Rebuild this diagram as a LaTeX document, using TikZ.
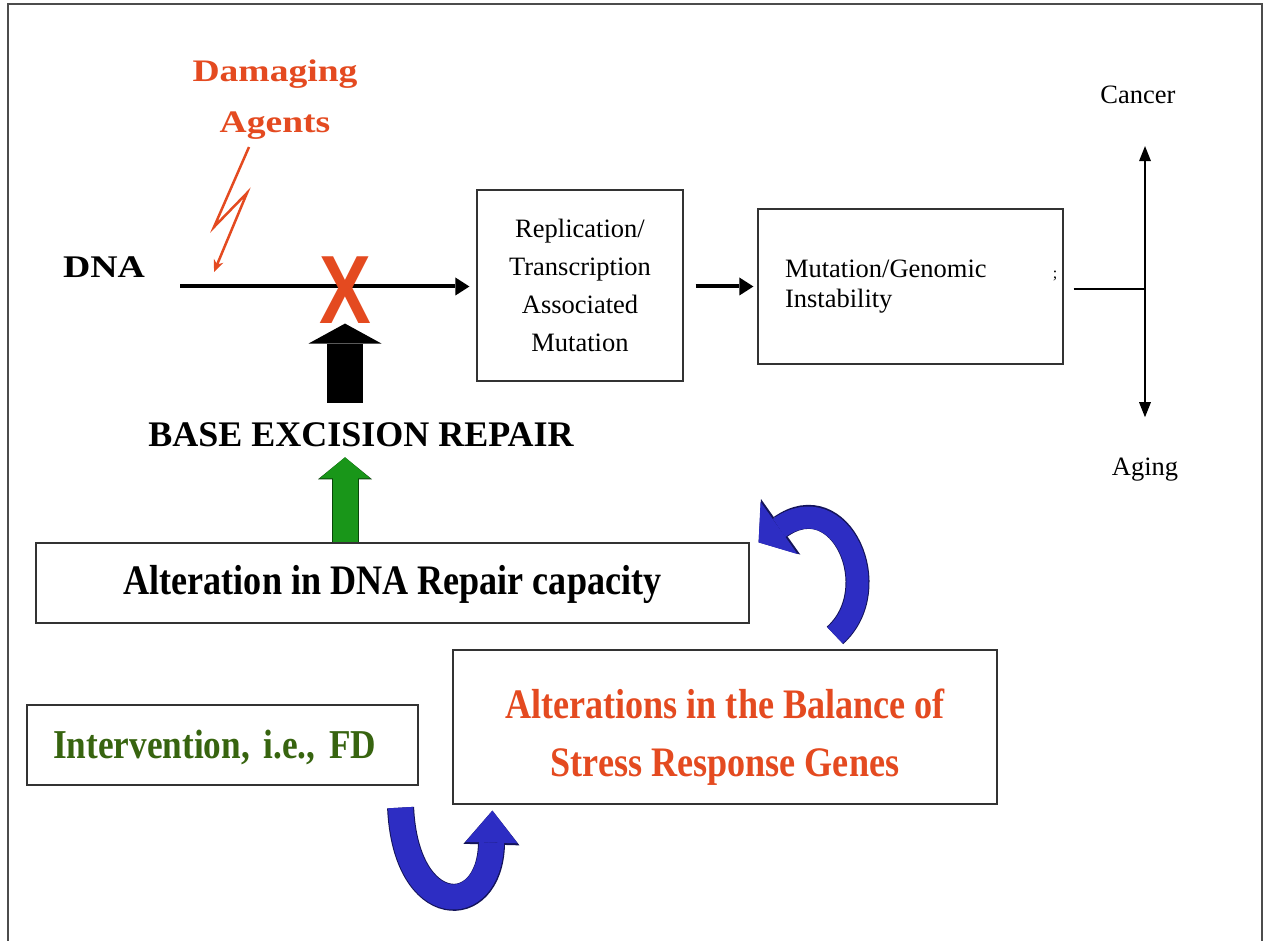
\documentclass[tikz,border=0pt]{standalone}
\usepackage{graphicx}
\usepackage{fontspec}
\setmainfont{Liberation Serif}
\setsansfont{Liberation Sans}
\newfontfamily\narrowfont[FakeStretch=0.86]{Liberation Serif}
\newfontfamily\widefont[FakeStretch=1.2]{Liberation Serif}
\usetikzlibrary{arrows.meta}

\definecolor{hotred}{RGB}{228,74,32}
\definecolor{leafgreen}{RGB}{55,100,15}
\definecolor{blockgreen}{RGB}{25,150,25}
\definecolor{darkgreen}{RGB}{10,70,10}
\definecolor{curlblue}{RGB}{45,45,195}
\definecolor{curlnavy}{RGB}{20,20,90}

\begin{document}
\begin{tikzpicture}[
  x=1pt, y=-1pt,
  box/.style    ={draw=black!80,line width=1.2pt,rectangle,align=center,inner sep=0pt},
  lbl/.style    ={inner sep=0pt,align=center},
  big/.style    ={lbl,font=\bfseries\fontsize{36}{40}\selectfont},
  cond/.style   ={font=\narrowfont\bfseries\fontsize{42}{58}\selectfont},
  small/.style  ={font=\fontsize{26.5}{38}\selectfont},
  flow/.style   ={draw,line width=4pt,-{Triangle[length=14pt,width=18pt,line width=0pt]}},
  thinln/.style ={draw,line width=1.5pt},
  thinarr/.style={thinln,-{Triangle[length=15pt,width=12pt,line width=0pt]}},
  bolt/.style   ={draw=hotred,line width=2.5pt,-{Stealth[length=12pt,width=10pt]}},
  blockup/.style={line width=36pt,-{Triangle[length=20pt,width=73pt,line width=0pt]}},
  greenup/.style={draw=blockgreen,line width=25pt,-{Triangle[length=21pt,width=50pt,line width=0pt]},
    preaction={draw=darkgreen,line width=27pt,-{Triangle[length=22pt,width=54pt,line width=0pt]}}},
  curlback/.style={draw=curlblue,line width=22pt,-{Triangle[length=25pt,width=64pt,line width=0pt]},
    preaction={draw=curlnavy,line width=24pt,-{Triangle[length=27pt,width=68pt,line width=0pt]}}},
  curlup/.style ={draw=curlblue,line width=25pt,-{Triangle[length=32pt,width=52pt,line width=0pt]},
    preaction={draw=curlnavy,line width=27pt,-{Triangle[length=34pt,width=56pt,line width=0pt]}}},
  frame/.style  ={draw=black!70,line width=1.2pt},
]
\useasboundingbox[fill=white] (0,0) rectangle (1264,941);
\draw[frame] (8,941) -- (8,4) -- (1262,4) -- (1262,941);

% ----------------------------------------------------------- DNA strand
\node[lbl,font=\widefont\bfseries\fontsize{31.5}{36}\selectfont] (dna) at (104,267) {DNA};
\node[lbl,text=hotred,font=\widefont\bfseries\fontsize{31.3}{51}\selectfont] (agents) at (275,100)
  {Damaging\\Agents};
\draw[bolt] ([xshift=-26pt,yshift=-7pt]agents.south) -- ++(-35,80) -- ++(33,-34) -- ++(-33,79);

\node[box,small,minimum width=206pt,minimum height=191pt] (rep) at (580,285.5)
  {Replication/\\Transcription\\Associated\\Mutation};
\node[box,align=left,font=\fontsize{26.5}{30}\selectfont,text width=251pt,inner xsep=27pt,
  minimum height=155pt] (mut) at (910.5,286.5) {Mutation/Genomic\\Instability};
\node[lbl,font=\fontsize{16}{16}\selectfont] (tick) at (1055,276) {;};

\draw[flow,shorten <=35pt,shorten >=7pt] (dna.east |- mut.west) -- (rep.west |- mut.west);
\draw[flow,shorten <=12pt,shorten >=4pt] (rep.east |- mut.west) -- (mut.west);

% ----------------------------------------------------------- outcomes
\coordinate (fork) at (1145,289);
\node[lbl,small] (cancer) at (1138,95) {Cancer};
\node[lbl,small] (aging) at (1145,470) {Aging};
\draw[thinln,shorten <=10pt] (mut.east |- fork) -- (fork);
\draw[thinarr,shorten >=42pt] (fork) -- (fork |- cancer.south);
\draw[thinarr,shorten >=41pt] (fork) -- (fork |- aging.north);

% ----------------------------------------------------------- repair
\node[lbl,text=hotred,font=\sffamily\bfseries\fontsize{97}{97}\selectfont] (xmark) at (345,290)
  {\scalebox{0.8}[1]{X}};
\node[big] (ber) at (361,435) {BASE EXCISION REPAIR};
\node[box,cond,minimum width=713pt,minimum height=80pt] (repair) at (392.5,583)
  {\rule{0pt}{33pt}Alteration in DNA Repair capacity};

\draw[blockup,draw=black,shorten <=20pt] (xmark.south |- ber.north) -- (xmark.south);
\draw[greenup,shorten >=10pt] (xmark.south |- repair.north) -- (xmark.south |- ber.south);

% ----------------------------------------------------------- stress response and intervention
\node[box,cond,text=hotred,minimum width=544pt,minimum height=154pt] (stress) at (725,727)
  {\rule{0pt}{49pt}Alterations in the Balance of\\Stress Response Genes};
\node[box,cond,font=\narrowfont\bfseries\fontsize{41}{50}\selectfont,text=leafgreen,align=left,
  text width=339pt,inner xsep=26pt,minimum height=80pt] (fd) at (222.5,745)
  {\rule{0pt}{33pt}Intervention, i.e., FD};

\draw[curlback] ([xshift=110pt,yshift=14pt]stress.north)
  .. controls +(52,-47) and +(82,-58) .. ([xshift=9pt]repair.north east);
\draw[curlup] ([xshift=-18pt,yshift=-22pt]fd.south east)
  .. controls +(5,112) and +(-3,110) .. ([xshift=40pt,yshift=-6pt]stress.south west);

\end{tikzpicture}
\end{document}
